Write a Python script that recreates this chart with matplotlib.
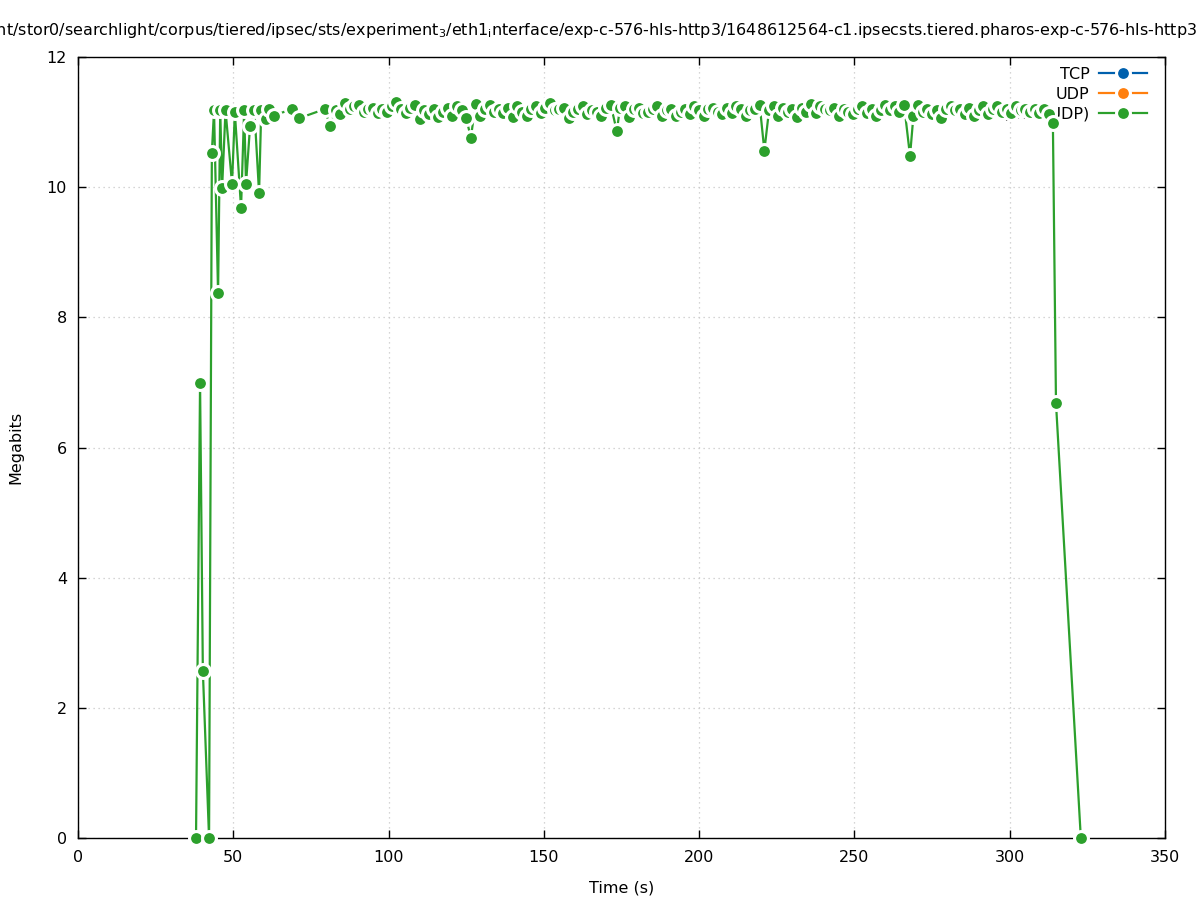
import matplotlib
matplotlib.use("Agg")
import matplotlib.pyplot as plt

# series labels
labels = ["TCP", "UDP", "QUIC (UDP)"]
colors = ["#0060ad", "#ff7f0e", "#2ca02c"]

# TCP and UDP carry no samples in this capture
tcp_t, tcp_v = [], []
udp_t, udp_v = [], []

# third series: time (s) and throughput (Megabits)
quic_t = [38.0, 39.3, 40.2, 42.2, 43.1, 43.8, 45.1, 45.8, 46.4, 47.5, 49.6, 50.5,
          52.5, 53.5, 54.1, 55.4, 56.8, 58.3, 59.0, 60.5, 61.5, 63.0, 68.9, 71.2,
          79.5, 81.1,
          83.0, 84.5, 86.0, 87.5, 89.0, 90.5, 92.0, 93.5, 95.0, 96.5,
          98.0, 99.5, 101.0, 102.5, 104.0, 105.5, 107.0, 108.5, 110.0, 111.5,
          113.0, 114.5, 116.0, 117.5, 119.0, 120.5, 122.0, 123.5, 125.0, 126.5,
          128.0, 129.5, 131.0, 132.5, 134.0, 135.5, 137.0, 138.5, 140.0, 141.5,
          143.0, 144.5, 146.0, 147.5, 149.0, 150.5, 152.0, 153.5, 155.0, 156.5,
          158.0, 159.5, 161.0, 162.5, 164.0, 165.5, 167.0, 168.5, 170.0, 171.5,
          173.5, 174.5, 176.0, 177.5, 179.0, 180.5, 182.0, 183.5, 185.0, 186.5,
          188.0, 189.5, 191.0, 192.5, 194.0, 195.5, 197.0, 198.5, 200.0, 201.5,
          203.0, 204.5, 206.0, 207.5, 209.0, 210.5, 212.0, 213.5, 215.0, 216.5,
          218.0, 219.5, 221.0, 222.5, 224.0, 225.5, 227.0, 228.5, 230.0, 231.5,
          233.0, 234.5, 236.0, 237.5, 239.0, 240.5, 242.0, 243.5, 245.0, 246.5,
          248.0, 249.5, 251.0, 252.5, 254.0, 255.5, 257.0, 258.5, 260.0, 261.5,
          263.0, 264.5, 266.0, 267.9, 269.0, 270.5, 272.0, 273.5, 275.0, 276.5,
          278.0, 279.5, 281.0, 282.5, 284.0, 285.5, 287.0, 288.5, 290.0, 291.5,
          293.0, 294.5, 296.0, 297.5, 299.0, 300.5, 302.0, 303.5, 305.0, 306.5,
          308.0, 309.5, 311.0, 312.5,
          313.9, 314.9, 322.9]
quic_v = [0.0, 6.99, 2.57, 0.0, 10.53, 11.18, 8.37, 11.18, 9.99, 11.18, 10.05, 11.15,
          9.68, 11.18, 10.05, 10.94, 11.18, 9.91, 11.18, 11.05, 11.2, 11.1, 11.2, 11.06,
          11.2, 10.94,
          11.18, 11.12, 11.29, 11.2, 11.24, 11.27, 11.16, 11.2, 11.22, 11.14,
          11.2, 11.16, 11.25, 11.31, 11.2, 11.14, 11.22, 11.26, 11.04, 11.18,
          11.12, 11.2, 11.08, 11.16, 11.22, 11.1, 11.24, 11.18, 11.06, 10.76,
          11.28, 11.1, 11.2, 11.26, 11.16, 11.2, 11.14, 11.22, 11.08, 11.24,
          11.16, 11.1, 11.2, 11.25, 11.14, 11.22, 11.3, 11.18, 11.2, 11.22,
          11.06, 11.16, 11.2, 11.24, 11.12, 11.18, 11.16, 11.1, 11.22, 11.27,
          10.86, 11.22, 11.24, 11.08, 11.2, 11.22, 11.14, 11.16, 11.2, 11.24,
          11.1, 11.18, 11.2, 11.1, 11.16, 11.2, 11.12, 11.25, 11.18, 11.1,
          11.2, 11.22, 11.16, 11.12, 11.22, 11.14, 11.25, 11.2, 11.1, 11.18,
          11.2, 11.26, 10.56, 11.18, 11.24, 11.1, 11.22, 11.15, 11.2, 11.08,
          11.22, 11.16, 11.28, 11.14, 11.25, 11.2, 11.18, 11.22, 11.1, 11.2,
          11.16, 11.12, 11.2, 11.24, 11.14, 11.2, 11.1, 11.18, 11.26, 11.18,
          11.24, 11.16, 11.26, 10.48, 11.1, 11.26, 11.16, 11.2, 11.12, 11.18,
          11.06, 11.2, 11.24, 11.18, 11.2, 11.12, 11.22, 11.1, 11.18, 11.24,
          11.12, 11.2, 11.24, 11.16, 11.2, 11.14, 11.24, 11.18, 11.2, 11.16,
          11.2, 11.14, 11.2, 11.12,
          10.99, 6.68, 0.0]

title = ("/mnt/stor0/searchlight/corpus/tiered/ipsec/sts/experiment$_3$/"
         "eth1$_\\mathrm{i}$nterface/exp-c-576-hls-http3/"
         "1648612564-c1.ipsecsts.tiered.pharos-exp-c-576-hls-http3.pcap")

fig = plt.figure(figsize=(11.97, 9.0), dpi=100)
ax = fig.add_axes([78 / 1197, 1 - 838 / 900, (1165 - 78) / 1197, (838 - 57) / 900])

series = [(tcp_t, tcp_v), (udp_t, udp_v), (quic_t, quic_v)]
for (t, v), lab, c in zip(series, labels, colors):
    ax.plot(t, v, color=c, lw=1.6, marker="o", ms=10, mfc=c,
            mec="white", mew=2.2, label=lab, zorder=3, clip_on=False)

ax.set_xlim(0, 350)
ax.set_ylim(0, 12)
ax.set_xticks(range(0, 351, 50))
ax.set_yticks(range(0, 13, 2))
ax.tick_params(direction="in", length=6, width=1, top=True, right=True,
               labelsize=11.5)
ax.tick_params(axis="x", pad=9)
ax.tick_params(axis="y", pad=8)
ax.grid(True, color="#c8c8c8", linestyle=(0, (1, 3)), lw=0.9)
ax.set_axisbelow(True)
for s in ax.spines.values():
    s.set_linewidth(1)
ax.set_xlabel("Time (s)", fontsize=11.5, labelpad=11)
ax.set_ylabel("Megabits", fontsize=11.5, labelpad=17)

leg = ax.legend(loc="upper right", frameon=False, markerfirst=False,
                fontsize=11.5, handlelength=3.0, handletextpad=0.6,
                labelspacing=0.3, borderpad=0, borderaxespad=0,
                bbox_to_anchor=(1147 / 1197, 1 - 67 / 900),
                bbox_transform=fig.transFigure)
leg.set_zorder(1)

fig.text(608 / 1197, 1 - 30 / 900, title, ha="center", va="center", fontsize=11.5)

fig.savefig("out.png", dpi=100)
